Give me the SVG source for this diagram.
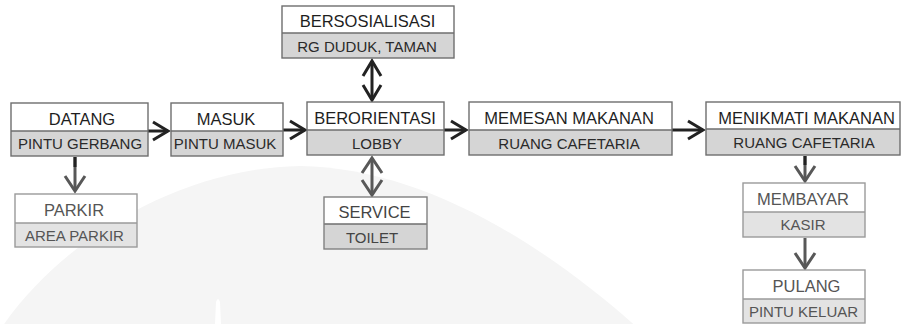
<svg xmlns="http://www.w3.org/2000/svg" width="902" height="324" viewBox="0 0 902 324">
<style>
text{font-family:"Liberation Sans",Arial,sans-serif;text-anchor:middle}
.t{font-size:16.5px;fill:#1e1e1e}
.s{font-size:15px;fill:#2a2a2a}
.t2{font-size:16.5px;fill:#555}
.s2{font-size:15px;fill:#555}
.top{fill:#fff}
.bot{fill:#d5d5d5}
.bot2{fill:#e3e3e3}
.frame{fill:none;stroke:#6e6e6e;stroke-width:1.4}
.frame2{fill:none;stroke:#9a9a9a;stroke-width:1.4}
.div{stroke:#6e6e6e;stroke-width:1.4}
.div2{stroke:#9a9a9a;stroke-width:1.4}
.cd{stroke:#222;stroke-width:3;fill:none}
.cg{stroke:#585858;stroke-width:3;fill:none}
</style>
<defs>
<marker id="ad" viewBox="-20 -12 24 24" markerWidth="24" markerHeight="24" refX="0" refY="0" orient="auto-start-reverse" markerUnits="userSpaceOnUse">
<path d="M-15,-9 L0,0 L-15,9" fill="none" stroke="#222" stroke-width="3"/>
</marker>
<marker id="ag" viewBox="-20 -12 24 24" markerWidth="24" markerHeight="24" refX="0" refY="0" orient="auto-start-reverse" markerUnits="userSpaceOnUse">
<path d="M-15,-10 L0,0 L-15,10" fill="none" stroke="#585858" stroke-width="3"/>
</marker>
</defs>
<rect width="902" height="324" fill="#fff"/>
<g id="watermark">
<path d="M0,330 C60,240 180,168 300,166 C420,168 540,240 640,330 Z" fill="#f5f5f5"/>
<path d="M215,324 L216,302 Q218,296 220,302 L221,324 Z" fill="#fff"/>
</g>
<g id="connectors">
<line class="cd" x1="148" y1="131" x2="168" y2="131" marker-end="url(#ad)"/>
<line class="cd" x1="283" y1="130" x2="305" y2="130" marker-end="url(#ad)"/>
<line class="cd" x1="444" y1="130" x2="466" y2="130" marker-end="url(#ad)"/>
<line class="cd" x1="672" y1="130" x2="703" y2="130" marker-end="url(#ad)"/>
<line class="cd" x1="372" y1="61" x2="372" y2="100" marker-start="url(#ad)" marker-end="url(#ad)"/>
<line class="cg" x1="372" y1="158" x2="372" y2="195" marker-start="url(#ag)" marker-end="url(#ag)"/>
<line class="cg" x1="75" y1="157" x2="75" y2="191" marker-end="url(#ag)"/>
<line stroke="#222" stroke-width="3" x1="75" y1="157" x2="75" y2="167"/>
<line class="cg" x1="805" y1="156" x2="805" y2="181" marker-end="url(#ag)"/>
<line stroke="#222" stroke-width="3" x1="805" y1="156" x2="805" y2="165"/>
<line class="cg" x1="805" y1="238" x2="805" y2="268" marker-end="url(#ag)"/>
</g>
<g id="datang">
<rect class="top" x="11" y="103" width="137" height="28"/><rect class="bot" x="11" y="131" width="137" height="25"/>
<line class="div" x1="11" y1="131" x2="148" y2="131"/><rect class="frame" x="11" y="103" width="137" height="53"/>
<text class="t" x="82" y="124.5">DATANG</text><text class="s" x="80" y="148.5">PINTU GERBANG</text>
</g>
<g id="masuk">
<rect class="top" x="171" y="103" width="112" height="28"/><rect class="bot" x="171" y="131" width="112" height="25"/>
<line class="div" x1="171" y1="131" x2="283" y2="131"/><rect class="frame" x="171" y="103" width="112" height="53"/>
<text class="t" x="226" y="124.5">MASUK</text><text class="s" x="225" y="148.5">PINTU MASUK</text>
</g>
<g id="bersosialisasi">
<rect class="top" x="282" y="6" width="172" height="27"/><rect class="bot" x="282" y="33" width="172" height="25"/>
<line class="div" x1="282" y1="33" x2="454" y2="33"/><rect class="frame" x="282" y="6" width="172" height="52"/>
<text class="t" x="367.5" y="27">BERSOSIALISASI</text><text class="s" x="367" y="51.5">RG DUDUK, TAMAN</text>
</g>
<g id="berorientasi">
<rect class="top" x="307" y="102" width="137" height="28"/><rect class="bot" x="307" y="130" width="137" height="25"/>
<line class="div" x1="307" y1="130" x2="444" y2="130"/><rect class="frame" x="307" y="102" width="137" height="53"/>
<text class="t" x="375" y="124">BERORIENTASI</text><text class="s" x="377" y="148.5">LOBBY</text>
</g>
<g id="service">
<rect class="top" x="324" y="197" width="103" height="27"/><rect class="bot" x="324" y="224" width="103" height="25"/>
<line class="div" x1="324" y1="224" x2="427" y2="224"/><rect class="frame" x="324" y="197" width="103" height="52" style="stroke:#808080"/>
<text class="t" x="374.5" y="218" style="fill:#444">SERVICE</text><text class="s" x="372" y="242.5" style="fill:#444">TOILET</text>
</g>
<g id="memesan">
<rect class="top" x="469" y="102" width="203" height="28"/><rect class="bot" x="469" y="130" width="203" height="25"/>
<line class="div" x1="469" y1="130" x2="672" y2="130"/><rect class="frame" x="469" y="102" width="203" height="53"/>
<text class="t" x="569" y="124">MEMESAN MAKANAN</text><text class="s" x="569" y="148.5">RUANG CAFETARIA</text>
</g>
<g id="menikmati">
<rect class="top" x="706" y="102" width="194" height="27"/><rect class="bot" x="706" y="129" width="194" height="26"/>
<line class="div" x1="706" y1="129" x2="900" y2="129"/><rect class="frame" x="706" y="102" width="194" height="53"/>
<text class="t" x="806.5" y="123.5">MENIKMATI MAKANAN</text><text class="s" x="804" y="148">RUANG CAFETARIA</text>
</g>
<g id="parkir">
<rect class="top" x="15" y="194" width="122" height="29"/><rect class="bot2" x="15" y="223" width="122" height="24"/>
<line class="div2" x1="15" y1="223" x2="137" y2="223"/><rect class="frame2" x="15" y="194" width="122" height="53"/>
<text class="t2" x="74" y="216">PARKIR</text><text class="s2" x="74.5" y="240.5">AREA PARKIR</text>
</g>
<g id="membayar">
<rect class="top" x="743" y="183" width="122" height="29"/><rect class="bot2" x="743" y="212" width="122" height="25"/>
<line class="div2" x1="743" y1="212" x2="865" y2="212"/><rect class="frame2" x="743" y="183" width="122" height="54"/>
<text class="t2" x="803" y="204.5">MEMBAYAR</text><text class="s2" x="803" y="229.5">KASIR</text>
</g>
<g id="pulang">
<rect class="top" x="743" y="270" width="122" height="29"/><rect class="bot2" x="743" y="299" width="122" height="24"/>
<line class="div2" x1="743" y1="299" x2="865" y2="299"/><rect class="frame2" x="743" y="270" width="122" height="53"/>
<text class="t2" x="806.5" y="292">PULANG</text><text class="s2" x="803.5" y="316.5">PINTU KELUAR</text>
</g>
</svg>
